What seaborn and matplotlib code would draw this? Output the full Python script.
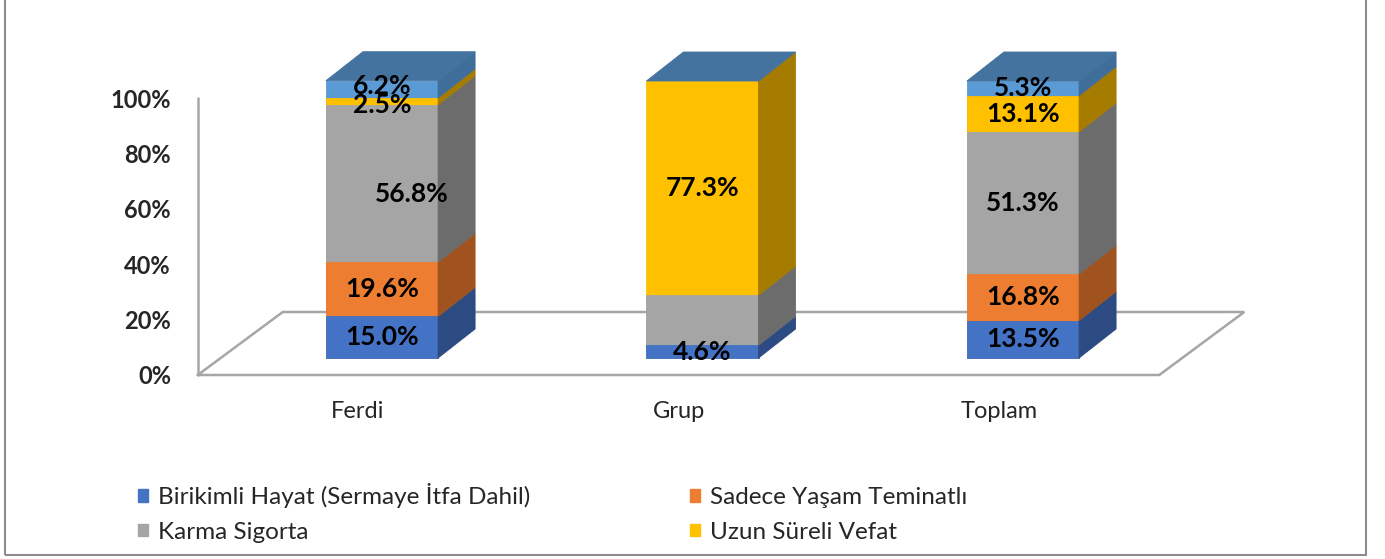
import numpy as np
import pandas as pd
import matplotlib.pyplot as plt
import seaborn as sns
from matplotlib.patches import Patch, Rectangle
from matplotlib.transforms import ScaledTranslation

# Data (share of premiums, %)
categories = ["Ferdi", "Grup", "Toplam"]
series_names = ["Birikimli Hayat (Sermaye İtfa Dahil)", "Sadece Yaşam Teminatlı",
                "Karma Sigorta", "Uzun Süreli Vefat", "Diğer"]
birikimli = [15.0, 4.6, 13.5]
sadece = [19.6, 0.0, 16.8]
karma = [56.8, 18.1, 51.3]
uzun = [2.5, 77.3, 13.1]
diger = [6.2, 0.0, 5.3]
y_ticks = [0, 20, 40, 60, 80, 100]
legend_series = series_names[:4]
hidden_labels = {("Grup", "Karma Sigorta")}

front_colors = ["#4472C4", "#ED7D31", "#A5A5A5", "#FFC000", "#5B9BD5"]
side_colors = ["#2C4B83", "#A0531E", "#6C6C6C", "#A57C00", "#3F6E9A"]
top_color = "#44739F"
floor_color = "#A6A6A6"

sns.set_style("white")
plt.rcParams['font.family'] = ['Lato', 'DejaVu Sans']

df = pd.DataFrame({
    "kategori": categories * len(series_names),
    "seri": np.repeat(series_names, len(categories)),
    "deger": np.concatenate([birikimli, sadece, karma, uzun, diger]),
})
df["ust"] = df.groupby("kategori")["deger"].cumsum()
df["alt"] = df["ust"] - df["deger"]
df["pos"] = df["kategori"].map({c: i for i, c in enumerate(categories)})

# pixel geometry of the oblique 3D look
W, H, DPI = 1385, 559, 100
px_x = 320.5          # pixels per category step
px_y = 2.77           # pixels per percent
x0_px, y0_px = 382, 358   # first bar centre / bar base in pixels
ax_l, ax_r, ax_t, ax_b = 180, 1300, 30, 395
bar_w = 0.35
ddx, ddy = 37 / px_x, 29 / px_y          # bar depth
fdx, fdy = -24 / px_x, -17 / px_y        # floor front offset
bdx, bdy = 61 / px_x, 46 / px_y          # floor back offset

fig = plt.figure(figsize=(W / DPI, H / DPI), dpi=DPI)
ax = fig.add_axes([ax_l / W, (H - ax_b) / H, (ax_r - ax_l) / W, (ax_b - ax_t) / H])

# floor and axis line
fx = [-0.5 + fdx, 2.5 + fdx, 2.5 + bdx, -0.5 + bdx, -0.5 + fdx]
fy = [fdy, fdy, bdy, bdy, fdy]
ax.plot(fx, fy, color=floor_color, lw=1.8, zorder=0.5, solid_joinstyle='miter')
ax.plot([-0.5 + fdx, -0.5 + fdx], [fdy, 100 + fdy], color=floor_color, lw=1.8, zorder=0.5)

# front faces: cumulative bars drawn from the top series down
for name, col in reversed(list(zip(series_names, front_colors))):
    sub = df[df["seri"] == name].copy()
    sub.loc[sub["deger"] <= 0, "ust"] = np.nan
    sns.barplot(data=sub, x="kategori", y="ust", order=categories, color=col,
                saturation=1, width=bar_w, edgecolor=col, linewidth=0.6,
                errorbar=None, ax=ax, zorder=2)

# side faces
for _, r in df[df["deger"] > 0].iterrows():
    sc = side_colors[series_names.index(r["seri"])]
    xr = r["pos"] + bar_w / 2
    ax.fill([xr, xr + ddx, xr + ddx, xr],
            [r["alt"], r["alt"] + ddy, r["ust"] + ddy, r["ust"]],
            color=sc, ec=sc, lw=0.6, zorder=2)

# top faces
totals = df.groupby("kategori", sort=False)["ust"].max()
for i, c in enumerate(categories):
    t = totals[c]
    xl, xr = i - bar_w / 2, i + bar_w / 2
    ax.fill([xl, xl + ddx, xr + ddx, xr], [t, t + ddy, t + ddy, t],
            color=top_color, ec=top_color, lw=0.6, zorder=2)

# value labels
nudge = {("Ferdi", "Karma Sigorta"): (30, -11), ("Ferdi", "Diğer"): (0, 3),
         ("Ferdi", "Uzun Süreli Vefat"): (0, -4)}
for _, r in df[df["deger"] > 0].iterrows():
    if (r["kategori"], r["seri"]) in hidden_labels:
        continue
    ax.annotate(f"{r['deger']:.1f}%", (r["pos"], (r["alt"] + r["ust"]) / 2),
                xytext=nudge.get((r["kategori"], r["seri"]), (0, 0)),
                textcoords="offset pixels", ha="center", va="center",
                fontsize=19, fontweight="bold", color="black", zorder=5)

ax.set_xlim((ax_l - x0_px) / px_x, (ax_r - x0_px) / px_x)
ax.set_ylim(-(ax_b - y0_px) / px_y, (y0_px - ax_t) / px_y)
ax.set_yticks(y_ticks)
ax.set_yticklabels([f"{t}%" for t in y_ticks], fontsize=17, fontweight="bold")
ax.set_xlabel("")
ax.set_ylabel("")
ax.tick_params(axis="y", length=0, pad=6.5)
ax.tick_params(axis="x", length=0, pad=4, labelsize=17)
for s in ax.spines.values():
    s.set_visible(False)
for lab in ax.get_yticklabels():
    lab.set_transform(lab.get_transform() + ScaledTranslation(0, -17 / DPI, fig.dpi_scale_trans))
for lab in ax.get_xticklabels():
    lab.set_transform(lab.get_transform() + ScaledTranslation(-24 / DPI, 0, fig.dpi_scale_trans))

# legend (row-wise order for two columns)
handles = [Patch(color=front_colors[series_names.index(n)], label=n) for n in legend_series]
order = [0, 2, 1, 3]
fig.legend([handles[i] for i in order], [legend_series[i] for i in order],
           ncol=2, loc="upper left", bbox_to_anchor=(126 / W, 1 - 471 / H),
           frameon=False, fontsize=17.5, handlelength=0.4, handleheight=0.4,
           handletextpad=0.4, columnspacing=6.6, labelspacing=0.56, borderpad=0)

# outer chart border
fig.patches.append(Rectangle((5 / W, 4 / H), 1361 / W, 1.1, transform=fig.transFigure,
                             fill=False, edgecolor="#8C8C8C", lw=1.5))

fig.savefig("out.png", dpi=DPI)
